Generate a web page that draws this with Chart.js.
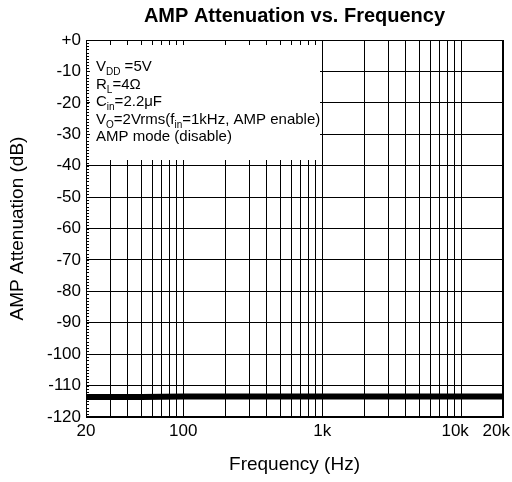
<!DOCTYPE html>
<html>
<head>
<meta charset="utf-8">
<script src="https://cdn.jsdelivr.net/npm/chart.js@4"></script>
<style>
  html, body { margin: 0; padding: 0; background: #fff; }
  #wrap { width: 512px; height: 482px; }
</style>
</head>
<body>
<div id="wrap"><canvas id="chart"></canvas></div>
<script>
// data
const freqs = [20, 30, 50, 100, 200, 500, 1000, 2000, 5000, 10000, 20000];
const attenuation = [-113.6, -113.6, -113.6, -113.5, -113.5, -113.5, -113.5, -113.5, -113.5, -113.5, -113.5];
const gridFreqs = [20, 30, 40, 50, 60, 70, 80, 90, 100, 200, 300, 400, 500, 600, 700, 800, 900,
  1000, 2000, 3000, 4000, 5000, 6000, 7000, 8000, 9000, 10000, 20000];
const xLabelFreqs = [20, 100, 1000, 10000, 20000];
const xLabelText = ['20', '100', '1k', '10k', '20k'];
const yMin = -120, yMax = 0, yStep = 10;
const noteLines = [
  [['V', 0], ['DD', 1], [' =5V', 0]],
  [['R', 0], ['L', 1], ['=4\u03A9', 0]],
  [['C', 0], ['in', 1], ['=2.2\u03BCF', 0]],
  [['V', 0], ['O', 1], ['=2Vrms(f', 0], ['in', 1], ['=1kHz, AMP enable)', 0]],
  [['AMP mode (disable)', 0]]
];

const FONT = 'Liberation Sans, Arial, sans-serif';

const extras = {
  id: 'extras',
  beforeDatasetsDraw(chart) {
    const ctx = chart.ctx;
    const a = chart.chartArea;
    // white note box over the grid
    ctx.save();
    ctx.fillStyle = '#fff';
    ctx.fillRect(a.left + 4, a.top + 5, 230, 115);
    ctx.fillStyle = '#000';
    ctx.textBaseline = 'alphabetic';
    ctx.textAlign = 'left';
    noteLines.forEach((line, i) => {
      let x = a.left + 10;
      const y = a.top + 31 + i * 17.5;
      line.forEach(([txt, sub]) => {
        ctx.font = sub ? '10px ' + FONT : '15px ' + FONT;
        ctx.fillText(txt, x, sub ? y + 4 : y);
        x += ctx.measureText(txt).width;
      });
    });
    ctx.restore();
  },
  afterDraw(chart) {
    const ctx = chart.ctx;
    const a = chart.chartArea;
    const ys = chart.scales.y, xs = chart.scales.x;
    ctx.save();
    // frame
    ctx.strokeStyle = '#000';
    ctx.lineWidth = 1;
    ctx.strokeRect(Math.round(a.left) + 0.5, Math.round(a.top) + 0.5,
      Math.round(a.right - a.left) - 1, Math.round(a.bottom - a.top) - 1);
    // minor ticks on the left axis, every 1 dB
    ctx.beginPath();
    for (let v = yMin; v <= yMax; v++) {
      const py = Math.round(ys.getPixelForValue(v)) + 0.5;
      ctx.moveTo(a.left, py);
      ctx.lineTo(a.left + 3, py);
    }
    ctx.stroke();
    // x tick labels
    ctx.fillStyle = '#000';
    ctx.font = '17px ' + FONT;
    ctx.textBaseline = 'middle';
    ctx.textAlign = 'center';
    xLabelFreqs.forEach((f, i) => {
      let px = xs.getPixelForValue(f);
      const w = ctx.measureText(xLabelText[i]).width;
      if (i === xLabelFreqs.length - 1) px = Math.min(px, chart.width - 2 - w / 2);
      else if (i === xLabelFreqs.length - 2) px -= 6;
      ctx.fillText(xLabelText[i], px, a.bottom + 14);
    });
    // title centred over the plot
    ctx.font = 'bold 20px ' + FONT;
    ctx.fillText('AMP Attenuation vs. Frequency', (a.left + a.right) / 2, 16);
    ctx.restore();
  }
};

new Chart(document.getElementById('chart'), {
  type: 'line',
  data: {
    datasets: [{
      data: freqs.map((f, i) => ({ x: f, y: attenuation[i] })),
      borderColor: '#000',
      borderWidth: 6,
      pointRadius: 0,
      tension: 0,
      fill: false
    }]
  },
  options: {
    responsive: true,
    maintainAspectRatio: false,
    animation: false,
    devicePixelRatio: 1,
    layout: { padding: { top: 40, right: 9, left: 0, bottom: 0 } },
    plugins: { legend: { display: false }, tooltip: { enabled: false }, title: { display: false } },
    scales: {
      x: {
        type: 'logarithmic',
        min: 20,
        max: 20000,
        afterBuildTicks: s => { s.ticks = gridFreqs.map(v => ({ value: v })); },
        afterFit: s => { s.height = 65; },
        ticks: { display: false },
        grid: { color: '#000', lineWidth: 1, drawTicks: false },
        border: { color: '#000' },
        title: { display: true, text: 'Frequency (Hz)', color: '#000', font: { family: FONT, size: 19 }, padding: { top: 0, bottom: 6 } }
      },
      y: {
        min: yMin,
        max: yMax,
        afterFit: s => { s.width = 86; },
        ticks: {
          stepSize: yStep,
          color: '#000',
          padding: 5,
          font: { family: FONT, size: 17 },
          callback: v => (v === 0 ? '+0' : String(v))
        },
        grid: { color: '#000', lineWidth: 1, drawTicks: false },
        border: { color: '#000' },
        title: { display: true, text: 'AMP Attenuation (dB)', color: '#000', font: { family: FONT, size: 19 }, padding: { top: 6, bottom: 0 } }
      }
    }
  },
  plugins: [extras]
});
</script>
</body>
</html>
